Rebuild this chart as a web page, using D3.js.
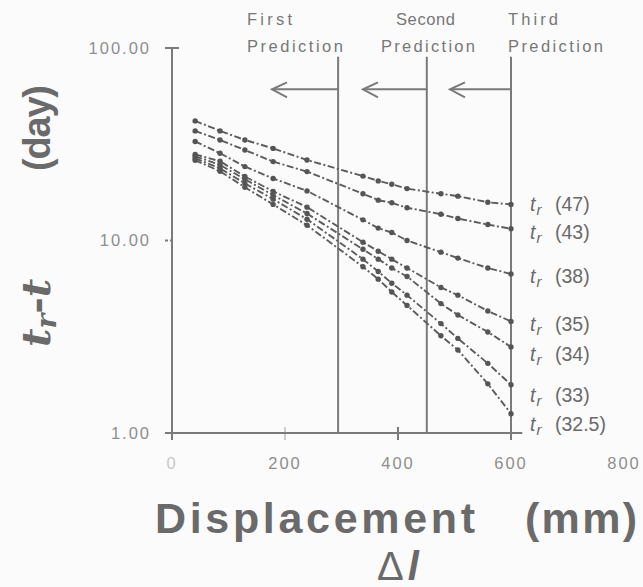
<!DOCTYPE html>
<html>
<head>
<meta charset="utf-8">
<script src="https://cdn.jsdelivr.net/npm/d3@7"></script>
<style>
  body { margin: 0; background: #fbfbfb; }
  svg { display: block; }
</style>
</head>
<body>
<div id="chart"></div>
<script>
// displacement (mm) where readings were taken
var displacement = [41, 85, 129, 179, 239, 338, 365, 389, 416, 476, 506, 559, 600];

// tr - t (day) for each assumed failure time tr
var tr47 = [41.8, 37.1, 33.3, 30.1, 26.2, 21.6, 20.4, 19.6, 18.6, 17.5, 17.0, 15.8, 15.4];
var tr43 = [37.1, 33.3, 29.5, 25.7, 22.8, 17.5, 16.2, 15.7, 14.8, 13.7, 13.0, 12.1, 11.5];
var tr38 = [32.7, 28.4, 24.2, 21.0, 18.1, 12.8, 11.6, 11.0, 10.0, 8.7, 8.1, 7.2, 6.7];
var tr35 = [28.0, 25.8, 21.5, 18.0, 14.9, 9.8, 8.8, 8.0, 7.2, 5.7, 5.2, 4.3, 3.8];
var tr34 = [27.4, 24.7, 20.8, 17.2, 13.8, 9.0, 8.0, 7.2, 6.5, 4.7, 4.1, 3.35, 2.8];
var tr33 = [26.7, 23.7, 19.8, 16.4, 12.9, 8.0, 6.9, 6.0, 5.2, 3.7, 3.1, 2.3, 1.78];
var tr325 = [26.1, 22.9, 18.9, 15.4, 12.0, 7.3, 6.3, 5.4, 4.6, 3.2, 2.7, 1.8, 1.26];

var seriesNames = ["47", "43", "38", "35", "34", "33", "32.5"];
var seriesValues = [tr47, tr43, tr38, tr35, tr34, tr33, tr325];

// prediction markers (mm) and arrow lengths (mm)
var predictionNames = [["First", "Prediction"], ["Second", "Prediction"], ["Third", "Prediction"]];
var predictionAt = [294, 451, 600];
var arrowLength = [117, 113, 108];

var xTicks = [0, 200, 400, 600, 800];
var yTicks = [1, 10, 100];

var svgWidth = 643, svgHeight = 587;

var svg = d3.select("#chart").append("svg")
  .attr("width", svgWidth)
  .attr("height", svgHeight);

var x = d3.scaleLinear().domain([0, 800]).range([172, 624]);
var y = d3.scaleLog().domain([1, 100]).range([433, 48]);

var axisColor = "#7a7a7a";
var textColor = "#6a6a6a";
var font = "'Liberation Sans', Arial, sans-serif";

// axes (drawn by hand to copy the old plotting style)
svg.append("line")
  .attr("x1", x(0)).attr("x2", x(0))
  .attr("y1", y(100)).attr("y2", y(1))
  .attr("stroke", axisColor).attr("stroke-width", 2);
svg.append("line")
  .attr("x1", x(0) - 7).attr("x2", x(620))
  .attr("y1", y(1)).attr("y2", y(1))
  .attr("stroke", axisColor).attr("stroke-width", 2);

svg.selectAll(".ytick").data(yTicks).enter().append("line")
  .attr("x1", d => x(0) - 7).attr("x2", d => d == 10 ? x(0) : x(0) + 7)
  .attr("y1", d => y(d)).attr("y2", d => y(d))
  .attr("stroke", axisColor).attr("stroke-width", 2)
  .attr("stroke-dasharray", d => d == 10 ? "3,2" : null);

svg.selectAll(".ylabel").data(yTicks).enter().append("text")
  .attr("x", 151).attr("y", d => y(d))
  .attr("dy", "0.35em")
  .attr("text-anchor", "end")
  .attr("font-family", font).attr("font-size", 16.5)
  .attr("letter-spacing", 2)
  .attr("fill", "#8e8e8e")
  .text(d3.format(".2f"));

svg.selectAll(".xtick").data(xTicks.slice(0, 4)).enter().append("line")
  .attr("x1", d => x(d)).attr("x2", d => x(d))
  .attr("y1", y(1) - 6).attr("y2", y(1) + 7)
  .attr("stroke", axisColor).attr("stroke-width", 2)
  .attr("opacity", d => d == 200 ? 0.35 : 1);

svg.selectAll(".xlabel").data(xTicks).enter().append("text")
  .attr("x", d => x(d)).attr("y", 469)
  .attr("text-anchor", "middle")
  .attr("font-family", font).attr("font-size", 16.5)
  .attr("letter-spacing", 2)
  .attr("fill", d => d == 0 ? "#c8c8c8" : "#8e8e8e")
  .text(d => d);

// prediction lines, arrows and captions
var arrowY = y(61);
predictionAt.forEach(function(p, i) {
  svg.append("line")
    .attr("x1", x(p)).attr("x2", x(p))
    .attr("y1", y(90)).attr("y2", y(1))
    .attr("stroke", axisColor).attr("stroke-width", 2);
  var tip = x(p - arrowLength[i]);
  svg.append("line")
    .attr("x1", x(p)).attr("x2", tip)
    .attr("y1", arrowY).attr("y2", arrowY)
    .attr("stroke", axisColor).attr("stroke-width", 2);
  svg.append("path")
    .attr("d", `M${tip + 15},${arrowY - 7} L${tip},${arrowY} L${tip + 15},${arrowY + 8}`)
    .attr("fill", "none")
    .attr("stroke", axisColor).attr("stroke-width", 2);
});

var capLayout = [
  { x0: 247, w0: 45, x1: 247, w1: 96 },
  { x0: 396, w0: 59, x1: 381, w1: 94 },
  { x0: 508, w0: 50, x1: 508, w1: 95 }
];
predictionNames.forEach(function(names, i) {
  var c = capLayout[i];
  svg.append("text")
    .attr("x", c.x0).attr("y", 25)
    .attr("textLength", c.w0).attr("lengthAdjust", "spacing")
    .attr("font-family", font).attr("font-size", 16.5)
    .attr("fill", "#777").text(names[0]);
  svg.append("text")
    .attr("x", c.x1).attr("y", 52)
    .attr("textLength", c.w1).attr("lengthAdjust", "spacing")
    .attr("font-family", font).attr("font-size", 16.5)
    .attr("fill", "#777").text(names[1]);
});

// series lines and points
var line = d3.line()
  .x((d, i) => x(displacement[i]))
  .y(d => y(d));

var seriesGroup = svg.selectAll(".series").data(seriesValues).enter().append("g");

seriesGroup.append("path")
  .attr("d", d => line(d))
  .attr("fill", "none")
  .attr("stroke", "#5c5c5c")
  .attr("stroke-width", 1.9)
  .attr("stroke-dasharray", "7,2.5,2,2.5");

seriesGroup.selectAll("circle")
  .data(d => d)
  .enter().append("circle")
  .attr("cx", (d, i) => x(displacement[i]))
  .attr("cy", d => y(d))
  .attr("r", 2.7)
  .attr("fill", "#555");

// series labels
var labelShift = [0, 3, 2, 3, 7, 10, 10];
seriesNames.forEach(function(name, i) {
  var vals = seriesValues[i];
  var ty = y(vals[vals.length - 1]) + labelShift[i];
  var t = svg.append("text")
    .attr("x", 530).attr("y", ty)
    .attr("dy", "0.35em")
    .attr("font-family", font).attr("font-size", 19.5)
    .attr("fill", textColor);
  t.append("tspan").attr("font-style", "italic").text("t");
  t.append("tspan").attr("font-style", "italic").attr("font-size", 15)
    .attr("dy", 4).attr("dx", 1).text("r");
  t.append("tspan").attr("x", 555).attr("dy", -4).text("(" + name + ")");
});

// axis titles
svg.append("text")
  .attr("x", 155).attr("y", 533)
  .attr("textLength", 320).attr("lengthAdjust", "spacing")
  .attr("font-family", font).attr("font-size", 43).attr("font-weight", "bold")
  .attr("fill", textColor).text("Displacement");
svg.append("text")
  .attr("x", 525).attr("y", 533)
  .attr("textLength", 112).attr("lengthAdjust", "spacing")
  .attr("font-family", font).attr("font-size", 43).attr("font-weight", "bold")
  .attr("fill", textColor).text("(mm)");

var dl = svg.append("text")
  .attr("x", 377).attr("y", 580)
  .attr("font-family", font).attr("font-size", 40)
  .attr("fill", textColor);
dl.append("tspan").text("\u0394");
dl.append("tspan").attr("dx", 4).attr("font-style", "italic").attr("font-weight", "bold").text("l");

var yt1 = svg.append("text")
  .attr("transform", "translate(50, 347) rotate(-90)")
  .attr("font-family", "'DejaVu Serif', serif").attr("font-size", 40)
  .attr("font-weight", "bold").attr("font-style", "italic")
  .attr("fill", textColor);
yt1.append("tspan").text("t");
yt1.append("tspan").attr("font-size", 28).attr("dy", 6).text("r");
yt1.append("tspan").attr("dy", -6).attr("font-style", "normal").text("-");
yt1.append("tspan").text("t");

svg.append("text")
  .attr("transform", "translate(50, 171) rotate(-90)")
  .attr("textLength", 86).attr("lengthAdjust", "spacing")
  .attr("font-family", font).attr("font-size", 38).attr("font-weight", "bold")
  .attr("fill", textColor).text("(day)");
</script>
</body>
</html>
